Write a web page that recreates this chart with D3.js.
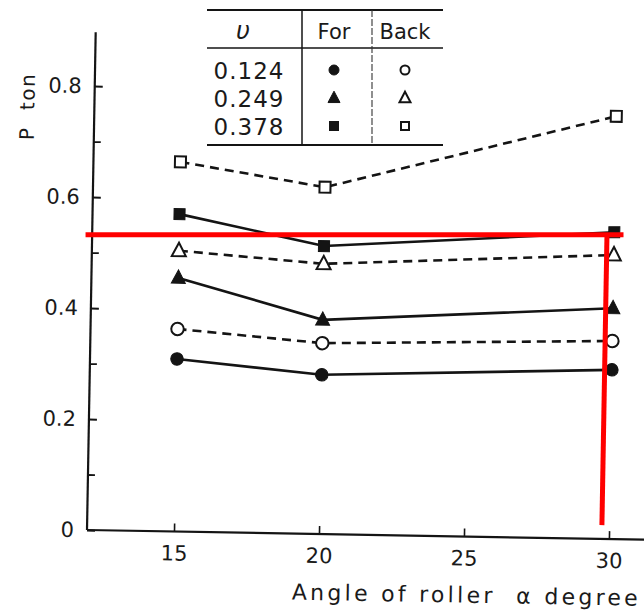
<!DOCTYPE html>
<html>
<head>
<meta charset="utf-8">
<script src="https://cdn.jsdelivr.net/npm/d3@7/dist/d3.min.js"></script>
<style>
  html, body { margin: 0; padding: 0; background: #fff; }
  svg { display: block; }
  text { font-family: "DejaVu Sans", "Liberation Sans", sans-serif; fill: #1a1a1a; }
</style>
</head>
<body>
<svg id="chart" width="644" height="614"></svg>
<script>
// ---- data ----
const angles = [15, 20, 30];
const speeds = ["0.124", "0.249", "0.378"];
const forCircle = [0.311, 0.287, 0.305];
const backCircle = [0.365, 0.344, 0.357];
const forTriangle = [0.457, 0.386, 0.416];
const backTriangle = [0.506, 0.487, 0.512];
const forSquare = [0.572, 0.519, 0.553];
const backSquare = [0.666, 0.625, 0.762];
const xTicks = [15, 20, 25, 30];
const yMajorTicks = [0, 0.2, 0.4, 0.6, 0.8];
const yMinorTicks = [0.1, 0.3, 0.5, 0.7];
const xTitle = "Angle of roller  \u03b1 degree";
const yTitle = "P  ton";
const legendHeader = ["\u03c5", "For", "Back"];
// red annotation marks (reference level read at 30 degrees)
const refLevel = 0.532;
const refXSpan = [11.95, 30.5];
const refAngle = 29.75;
const refYSpan = [0.025, 0.548];

const series = [
  {vals: forCircle,   shape: "circle",   filled: true,  dashed: false},
  {vals: backCircle,  shape: "circle",   filled: false, dashed: true},
  {vals: forTriangle, shape: "triangle", filled: true,  dashed: false},
  {vals: backTriangle,shape: "triangle", filled: false, dashed: true},
  {vals: forSquare,   shape: "square",   filled: true,  dashed: false},
  {vals: backSquare,  shape: "square",   filled: false, dashed: true}
];

const ink = "#141414";
const svg = d3.select("#chart");

const x = d3.scaleLinear().domain([12, 32]).range([87, 667]);
const y = d3.scaleLinear().domain([0, 0.9]).range([530, 530 - 0.9 * 555]);

// scanned page is rotated by ~1 degree
const plot = svg.append("g").attr("transform", "rotate(1.0, 87, 530)");

// y axis
const yAxis = plot.append("g").attr("transform", `translate(${x(12)},0)`)
  .call(d3.axisLeft(y).tickValues(yMajorTicks).tickSize(-8).tickSizeOuter(0).tickPadding(13)
    .tickFormat(d => d === 0 ? "0" : d3.format(".1f")(d)));
yAxis.select(".domain").remove();
yAxis.selectAll("line").attr("stroke", ink).attr("stroke-width", 2);
yAxis.selectAll("text").attr("font-size", 21).attr("fill", "#222").attr("font-family", "DejaVu Sans");
const yMinor = plot.append("g").attr("transform", `translate(${x(12)},0)`)
  .call(d3.axisLeft(y).tickValues(yMinorTicks).tickSize(-7).tickFormat(""));
yMinor.select(".domain").remove();
yMinor.selectAll("line").attr("stroke", ink).attr("stroke-width", 1.8);
plot.append("line").attr("x1", x(12)).attr("x2", x(12)).attr("y1", y(0)).attr("y2", y(0.897))
  .attr("stroke", ink).attr("stroke-width", 2.2);

// x axis
const xAxis = plot.append("g").attr("transform", `translate(0,${y(0)})`)
  .call(d3.axisBottom(x).tickValues(xTicks).tickSize(-8).tickSizeOuter(0).tickPadding(14));
xAxis.select(".domain").remove();
xAxis.selectAll("line").attr("stroke", ink).attr("stroke-width", 1.6);
xAxis.selectAll("text").attr("font-size", 21).attr("fill", "#222").attr("font-family", "DejaVu Sans");
plot.append("line").attr("x1", x(12)).attr("x2", x(32)).attr("y1", y(0)).attr("y2", y(0))
  .attr("stroke", ink).attr("stroke-width", 2.2);

// titles
plot.append("text").attr("x", x(19.1)).attr("y", y(0) + 66)
  .attr("font-size", 22).attr("fill", "#222")
  .attr("textLength", 346).attr("lengthAdjust", "spacing")
  .style("white-space", "pre").text(xTitle);
plot.append("text").attr("transform", `translate(${x(12) - 60},${y(0.76)}) rotate(-90)`)
  .attr("text-anchor", "middle").attr("font-size", 20).attr("fill", "#222")
  .attr("textLength", 66).attr("lengthAdjust", "spacing")
  .style("white-space", "pre").text(yTitle);

// lines
const lineGen = d3.line().x((d, i) => x(angles[i])).y(d => y(d));
series.forEach(s => {
  plot.append("path").datum(s.vals).attr("d", lineGen)
    .attr("fill", "none").attr("stroke", ink).attr("stroke-width", 2.6)
    .attr("stroke-dasharray", s.dashed ? "9,6" : null);
});

function drawMarker(g, shape, filled, cx, cy, size) {
  let el;
  if (shape === "circle") {
    el = g.append("circle").attr("cx", cx).attr("cy", cy).attr("r", size / 2);
  } else if (shape === "square") {
    el = g.append("rect").attr("x", cx - size / 2).attr("y", cy - size / 2)
      .attr("width", size).attr("height", size);
  } else {
    const h = size * 0.95;
    el = g.append("path").attr("d",
      `M${cx},${cy - h * 0.6} L${cx + size / 2},${cy + h * 0.4} L${cx - size / 2},${cy + h * 0.4} Z`);
  }
  el.attr("fill", filled ? ink : "#fff").attr("stroke", ink).attr("stroke-width", filled ? 1 : 2);
  return el;
}

series.forEach(s => {
  s.vals.forEach((v, i) => {
    const sz = s.shape === "triangle" ? 14 : (s.shape === "square" ? 11 : 12.5);
    drawMarker(plot, s.shape, s.filled, x(angles[i]), y(v), sz);
  });
});

// legend table (screen coordinates)
const lg = svg.append("g");
const colX = [243, 334, 405];
const rowY = [70, 98, 126];
lg.append("line").attr("x1", 207).attr("x2", 443).attr("y1", 10).attr("y2", 10).attr("stroke", ink).attr("stroke-width", 2.2);
lg.append("line").attr("x1", 207).attr("x2", 443).attr("y1", 48).attr("y2", 48).attr("stroke", ink).attr("stroke-width", 1.4);
lg.append("line").attr("x1", 207).attr("x2", 443).attr("y1", 145).attr("y2", 145).attr("stroke", ink).attr("stroke-width", 2.2);
lg.append("line").attr("x1", 302).attr("x2", 302).attr("y1", 10).attr("y2", 145).attr("stroke", ink).attr("stroke-width", 1.5);
lg.append("line").attr("x1", 372).attr("x2", 372).attr("y1", 10).attr("y2", 145).attr("stroke", "#333").attr("stroke-width", 1.1).attr("stroke-dasharray", "7,2");
legendHeader.forEach((t, i) => {
  lg.append("text").attr("x", colX[i]).attr("y", 39).attr("text-anchor", "middle")
    .attr("font-size", i === 0 ? 24 : 21)
    .attr("font-family", i === 0 ? "DejaVu Serif" : "DejaVu Sans")
    .attr("font-style", i === 0 ? "italic" : "normal").text(t);
});
const legendShapes = ["circle", "triangle", "square"];
speeds.forEach((sp, r) => {
  lg.append("text").attr("x", 249).attr("y", rowY[r] + 9).attr("text-anchor", "middle")
    .attr("font-size", 23).attr("letter-spacing", 1).text(sp);
  const sz = legendShapes[r] === "triangle" ? 12 : (legendShapes[r] === "square" ? 9 : 10);
  drawMarker(lg, legendShapes[r], true, colX[1], rowY[r], sz);
  drawMarker(lg, legendShapes[r], false, colX[2], rowY[r], sz - 1);
});

// red annotation lines
svg.append("line").attr("x1", x(refXSpan[0])).attr("x2", x(refXSpan[1]))
  .attr("y1", y(refLevel)).attr("y2", y(refLevel))
  .attr("stroke", "#ff0000").attr("stroke-width", 5);
plot.append("line").attr("x1", x(refAngle)).attr("x2", x(refAngle))
  .attr("y1", y(refYSpan[0])).attr("y2", y(refYSpan[1]))
  .attr("stroke", "#ff0000").attr("stroke-width", 5);
</script>
</body>
</html>
